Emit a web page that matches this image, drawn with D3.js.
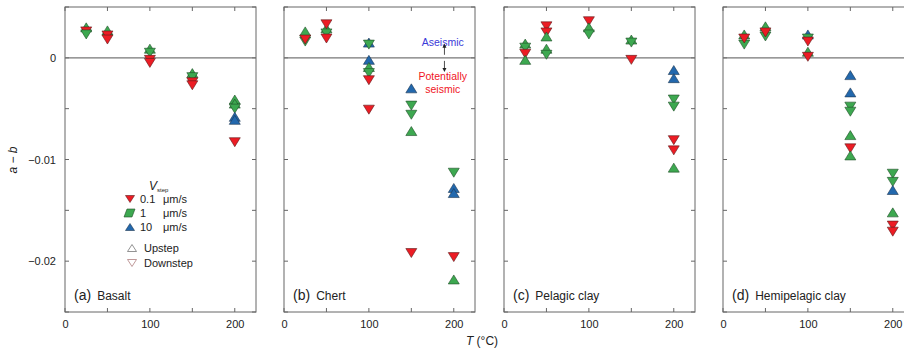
<!DOCTYPE html>
<html><head><meta charset="utf-8">
<script src="https://cdn.jsdelivr.net/npm/d3@7"></script>
<style>
body{margin:0;background:#fff;}
text{font-family:"Liberation Sans",Arial,Helvetica,sans-serif;}
</style></head>
<body><svg id="c" width="904" height="353"></svg>
<script>
// [T (°C), a-b, V (µm/s), direction] ; direction: "up" = upstep, "down" = downstep
const basaltPts = [
  [25,0.0030,1,"up"],[25,0.0026,0.1,"down"],[25,0.0023,1,"down"],
  [50,0.0027,1,"up"],[50,0.0022,0.1,"down"],[50,0.0018,0.1,"down"],
  [100,0.0009,1,"up"],[100,0.0005,1,"down"],[100,-0.0002,0.1,"down"],[100,-0.0005,0.1,"down"],
  [150,-0.0015,1,"up"],[150,-0.0019,1,"down"],[150,-0.0024,0.1,"down"],[150,-0.0027,0.1,"down"],
  [200,-0.0041,1,"up"],[200,-0.0045,1,"up"],[200,-0.0050,1,"down"],[200,-0.0058,10,"up"],[200,-0.0061,10,"up"],[200,-0.0083,0.1,"down"]
];
const chertPts = [
  [25,0.0026,1,"up"],[25,0.0016,1,"down"],[25,0.0018,0.1,"down"],
  [50,0.0029,1,"up"],[50,0.0024,1,"down"],[50,0.0033,0.1,"down"],[50,0.0019,0.1,"down"],
  [100,0.0015,10,"up"],[100,0.0013,1,"down"],[100,-0.0002,10,"up"],[100,-0.0009,1,"up"],[100,-0.0015,1,"down"],[100,-0.0022,0.1,"down"],[100,-0.0051,0.1,"down"],
  [150,-0.0030,10,"up"],[150,-0.0047,1,"down"],[150,-0.0056,1,"down"],[150,-0.0072,1,"up"],[150,-0.0192,0.1,"down"],
  [200,-0.0113,1,"down"],[200,-0.0128,10,"up"],[200,-0.0133,10,"up"],[200,-0.0196,0.1,"down"],[200,-0.0218,1,"up"]
];
const pelagicPts = [
  [25,0.0014,1,"up"],[25,0.0010,1,"down"],[25,0.0004,0.1,"down"],[25,-0.0002,1,"up"],
  [50,0.0031,0.1,"down"],[50,0.0025,0.1,"down"],[50,0.0021,1,"up"],[50,0.0009,1,"up"],[50,0.0003,1,"down"],
  [100,0.0036,0.1,"down"],[100,0.0030,1,"up"],[100,0.0023,1,"down"],
  [150,0.0018,1,"up"],[150,0.0015,1,"down"],[150,-0.0002,0.1,"down"],
  [200,-0.0012,10,"up"],[200,-0.0020,10,"up"],[200,-0.0041,1,"down"],[200,-0.0048,1,"down"],[200,-0.0081,0.1,"down"],[200,-0.0091,0.1,"down"],[200,-0.0108,1,"up"]
];
const hemiPts = [
  [25,0.0023,1,"up"],[25,0.0013,1,"down"],[25,0.0019,0.1,"down"],
  [50,0.0031,1,"up"],[50,0.0021,1,"down"],[50,0.0025,0.1,"down"],
  [100,0.0023,10,"up"],[100,0.0019,1,"down"],[100,0.0016,0.1,"down"],[100,0.0006,1,"up"],[100,0.0001,0.1,"down"],
  [150,-0.0017,10,"up"],[150,-0.0034,10,"up"],[150,-0.0048,1,"down"],[150,-0.0053,1,"down"],[150,-0.0076,1,"up"],[150,-0.0089,0.1,"down"],[150,-0.0096,1,"up"],
  [200,-0.0114,1,"down"],[200,-0.0122,1,"down"],[200,-0.0130,10,"up"],[200,-0.0152,1,"up"],[200,-0.0165,0.1,"down"],[200,-0.0171,0.1,"down"]
];
const panelLetters = ["(a)","(b)","(c)","(d)"];
const panelNames = ["Basalt","Chert","Pelagic clay","Hemipelagic clay"];
const panelData = [basaltPts, chertPts, pelagicPts, hemiPts];
const xTicks = [0,100,200];
const yTicks = [0,-0.01,-0.02];
const yTickLabels = ["0","\u22120.01","\u22120.02"];
const rates = [0.1,1,10];
const rateLabels = ["0.1","1","10"];

const colors = {0.1:"#ec1c24", 1:"#3da850", 10:"#2268ad"};
const strokes = {0.1:"#5a1a1a", 1:"#1f4d26", 10:"#1c3550"};

const svg = d3.select("#c");
const lefts = [65,284,504,723];
const pw = 191;
const y = d3.scaleLinear().domain([-0.025,0.005]).range([312,7]);

function tri(dir, w=11, h=9){
  const hw=w/2, hh=h/2;
  return dir==="up" ? `M0,${-hh}L${hw},${hh}L${-hw},${hh}Z` : `M0,${hh}L${hw},${-hh}L${-hw},${-hh}Z`;
}

panelData.forEach((pts,i)=>{
  const x = d3.scaleLinear().domain([0,225]).range([lefts[i], lefts[i]+pw]);
  const g = svg.append("g");
  g.append("rect").attr("x",lefts[i]).attr("y",y(0.005)).attr("width",pw).attr("height",y(-0.025)-y(0.005))
    .attr("fill","none").attr("stroke","#666").attr("stroke-width",1);
  const xt = d3.range(0,226,50), yt = d3.range(-0.025,0.0051,0.005);
  xt.forEach(t=>{
    g.append("line").attr("x1",x(t)).attr("x2",x(t)).attr("y1",y(-0.025)).attr("y2",y(-0.025)-4).attr("stroke","#666");
    g.append("line").attr("x1",x(t)).attr("x2",x(t)).attr("y1",y(0.005)).attr("y2",y(0.005)+4).attr("stroke","#666");
  });
  yt.forEach(t=>{
    g.append("line").attr("x1",x(0)).attr("x2",x(0)+4).attr("y1",y(t)).attr("y2",y(t)).attr("stroke","#666");
    g.append("line").attr("x1",x(0)+pw).attr("x2",x(0)+pw-4).attr("y1",y(t)).attr("y2",y(t)).attr("stroke","#666");
  });
  const xa = d3.axisBottom(x).tickValues(xTicks).tickSize(0).tickPadding(8).tickFormat(d3.format("d"));
  const xg = g.append("g").attr("transform",`translate(0,${y(-0.025)})`).call(xa);
  xg.select(".domain").remove();
  xg.selectAll("text").attr("font-size",11).attr("fill","#222").attr("font-family","Liberation Sans, Arial, sans-serif");
  if(i===0){
    const ya = d3.axisLeft(y).tickValues(yTicks).tickSize(0).tickPadding(9).tickFormat((d,k)=>yTickLabels[k]);
    const yg = g.append("g").attr("transform",`translate(${lefts[0]},0)`).call(ya);
    yg.select(".domain").remove();
    yg.selectAll("text").attr("font-size",11).attr("fill","#222").attr("font-family","Liberation Sans, Arial, sans-serif");
  }
  g.append("line").attr("x1",x(0)).attr("x2",x(0)+pw).attr("y1",y(0)).attr("y2",y(0)).attr("stroke","#777").attr("stroke-width",1.1);
  g.selectAll("path.pt").data(pts).join("path").attr("class","pt")
    .attr("transform",d=>`translate(${x(d[0])},${y(d[1])})`)
    .attr("d",d=>tri(d[3]))
    .attr("fill",d=>colors[d[2]]).attr("stroke",d=>strokes[d[2]]).attr("stroke-width",0.6);
  const lt = g.append("text").attr("x",lefts[i]+9).attr("y",300).attr("fill","#222");
  lt.append("tspan").attr("font-size",14).text(panelLetters[i]);
  lt.append("tspan").attr("font-size",12).attr("dx",6).text(panelNames[i]);
});

const xb = d3.scaleLinear().domain([0,225]).range([lefts[1], lefts[1]+pw]);
svg.append("text").attr("x",xb(187)).attr("y",46).attr("text-anchor","middle").attr("font-size",10.5).attr("fill","#3a3ad8").text("Aseismic");
svg.append("text").attr("x",xb(187)).attr("y",80).attr("text-anchor","middle").attr("font-size",10.5).attr("fill","#f0141e").text("Potentially");
svg.append("text").attr("x",xb(187)).attr("y",93).attr("text-anchor","middle").attr("font-size",10.5).attr("fill","#f0141e").text("seismic");
const ax = xb(189);
svg.append("line").attr("x1",ax).attr("x2",ax).attr("y1",y(0.0003)).attr("y2",y(0.0011)).attr("stroke","#222").attr("stroke-width",0.8);
svg.append("path").attr("d",`M${ax},${y(0.0014)}L${ax+2},${y(0.0010)}L${ax-2},${y(0.0010)}Z`).attr("fill","#222");
svg.append("line").attr("x1",ax).attr("x2",ax).attr("y1",y(-0.0003)).attr("y2",y(-0.0011)).attr("stroke","#222").attr("stroke-width",0.8);
svg.append("path").attr("d",`M${ax},${y(-0.0014)}L${ax+2},${y(-0.0010)}L${ax-2},${y(-0.0010)}Z`).attr("fill","#222");

const lg = svg.append("g").attr("font-size",11).attr("fill","#222");
const vt = lg.append("text").attr("x",149).attr("y",190);
vt.append("tspan").attr("font-style","italic").attr("font-size",12).text("V");
vt.append("tspan").attr("font-size",6).attr("dy",2).text("step");
const ly = [203,217,231];
rates.forEach((r,k)=>{
  if(r===1){
    lg.append("path").attr("transform",`translate(128,${ly[k]-4})`).attr("d","M-4,4L-1,-4L7,-4L4,4Z")
      .attr("fill",colors[r]).attr("stroke",strokes[r]).attr("stroke-width",0.6);
  } else {
    lg.append("path").attr("transform",`translate(130,${ly[k]-4})`).attr("d",tri(r===0.1?"down":"up",9,7))
      .attr("fill",colors[r]).attr("stroke",strokes[r]).attr("stroke-width",0.6);
  }
  lg.append("text").attr("x",140).attr("y",ly[k]).text(rateLabels[k]);
  lg.append("text").attr("x",163).attr("y",ly[k]).text("\u03bcm/s");
});
lg.append("path").attr("transform","translate(132,248)").attr("d",tri("up",9,7)).attr("fill","none").attr("stroke","#777").attr("stroke-width",0.8);
lg.append("text").attr("x",144).attr("y",252).text("Upstep");
lg.append("path").attr("transform","translate(132,263)").attr("d",tri("down",9,7)).attr("fill","none").attr("stroke","#b08080").attr("stroke-width",0.8);
lg.append("text").attr("x",144).attr("y",267).text("Downstep");

const yl = svg.append("text").attr("transform","translate(17,160) rotate(-90)").attr("text-anchor","middle").attr("font-size",12).attr("fill","#222");
yl.append("tspan").attr("font-style","italic").text("a");
yl.append("tspan").text(" \u2212 ");
yl.append("tspan").attr("font-style","italic").text("b");
const xl = svg.append("text").attr("x",482).attr("y",345).attr("text-anchor","middle").attr("font-size",12).attr("fill","#222");
xl.append("tspan").attr("font-style","italic").text("T");
xl.append("tspan").text(" (\u00b0C)");
</script></body></html>
